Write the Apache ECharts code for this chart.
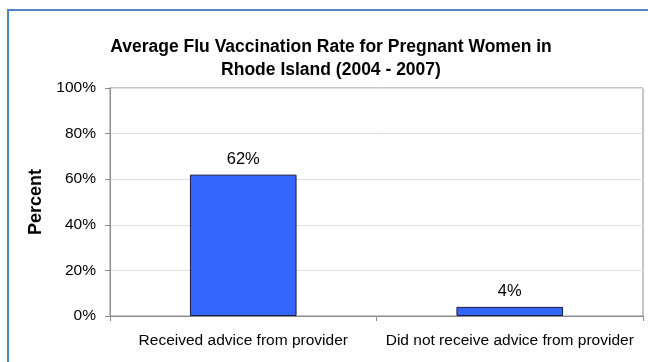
<!DOCTYPE html>
<html>
<head>
<meta charset="utf-8">
<script src="https://cdn.jsdelivr.net/npm/echarts@6/dist/echarts.min.js"></script>
<style>
  html, body { margin: 0; padding: 0; background: #fff; overflow: hidden; }
  .frame {
    position: absolute; left: 7px; top: 9px; width: 700px; height: 400px;
    border-left: 2px solid #4f86c4; border-top: 2px solid #4f86c4;
  }
  #chart { position: absolute; left: 0; top: 0; width: 648px; height: 362px; }
</style>
</head>
<body>
<div class="frame"></div>
<div id="chart"></div>
<script>
const categories = ['Received advice from provider', 'Did not receive advice from provider']
const rates = [62, 4]
const yTicks = [0, 20, 40, 60, 80, 100]

let mychart = echarts.init(document.getElementById('chart'))
let option = {
  animation: false,
  textStyle: { fontFamily: 'Liberation Sans, Arial, sans-serif' },
  title: {
    text: 'Average Flu Vaccination Rate for Pregnant Women in\nRhode Island (2004 - 2007)',
    left: 326,
    top: 31,
    textAlign: 'center',
    textStyle: { fontSize: 17.5, fontWeight: 'bold', color: '#000', lineHeight: 23 }
  },
  grid: {
    left: 110,
    right: 5,
    top: 88,
    bottom: 46,
    show: true,
    borderColor: '#8c8c8c',
    borderWidth: 1
  },
  xAxis: {
    type: 'category',
    data: categories,
    axisLine: { lineStyle: { color: '#8c8c8c' } },
    axisTick: { show: true, length: 5, lineStyle: { color: '#8c8c8c' } },
    axisLabel: { color: '#000', fontSize: 15.5, margin: 17, interval: 0, hideOverlap: false }
  },
  yAxis: {
    type: 'value',
    min: yTicks[0],
    max: yTicks[yTicks.length - 1],
    interval: 20,
    name: 'Percent',
    nameLocation: 'middle',
    nameGap: 61,
    nameRotate: 90,
    nameTextStyle: { fontSize: 18, fontWeight: 'bold', color: '#000' },
    axisLine: { show: true, lineStyle: { color: '#8c8c8c' } },
    axisTick: { show: true, length: 5, lineStyle: { color: '#8c8c8c' } },
    axisLabel: { color: '#000', fontSize: 15.5, margin: 14, formatter: '{value}%' },
    splitLine: { lineStyle: { color: '#e0e0e0' } }
  },
  series: [
    {
      type: 'bar',
      data: rates,
      barWidth: '40%',
      itemStyle: { color: '#3366ff', borderColor: '#1a1a40', borderWidth: 1 },
      label: {
        show: true,
        position: 'top',
        distance: 7,
        formatter: '{c}%',
        fontSize: 16.5,
        color: '#000'
      }
    }
  ]
}
mychart.setOption(option)
</script>
</body>
</html>
